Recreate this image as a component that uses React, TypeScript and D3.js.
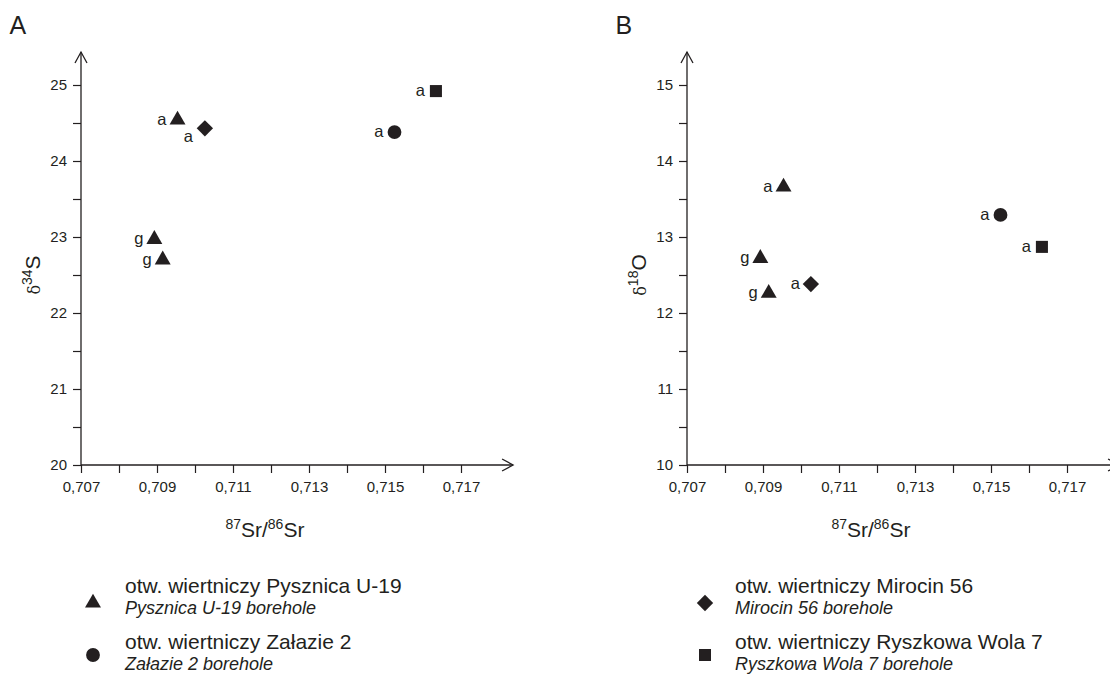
import { useEffect, useRef } from 'react'
import * as d3 from 'd3'

// samples: 87Sr/86Sr shared by both panels
const srRatio = [0.70954, 0.70893, 0.70915, 0.71026, 0.71525, 0.71634]
const delta34S = [24.54, 22.97, 22.7, 24.43, 24.38, 24.92]
const delta18O = [13.66, 12.72, 12.26, 12.38, 13.29, 12.87]
const sampleBorehole = ['pysznica', 'pysznica', 'pysznica', 'mirocin', 'zalazie', 'ryszkowa']
const sampleMineral = ['a', 'g', 'g', 'a', 'a', 'a']
// in panel A the Mirocin label sits below the marker
const sulfurLabelBelow = [false, false, false, true, false, false]

const srTicks = [0.707, 0.708, 0.709, 0.71, 0.711, 0.712, 0.713, 0.714, 0.715, 0.716, 0.717]
const srTickLabels = ['0,707', '0,709', '0,711', '0,713', '0,715', '0,717']
const sulfurTicks = [20, 20.5, 21, 21.5, 22, 22.5, 23, 23.5, 24, 24.5, 25]
const oxygenTicks = [10, 10.5, 11, 11.5, 12, 12.5, 13, 13.5, 14, 14.5, 15]

const boreholeKeys = ['pysznica', 'zalazie', 'mirocin', 'ryszkowa']
const boreholeNamesPl = [
  'otw. wiertniczy Pysznica U-19',
  'otw. wiertniczy Załazie 2',
  'otw. wiertniczy Mirocin 56',
  'otw. wiertniczy Ryszkowa Wola 7',
]
const boreholeNamesEn = [
  'Pysznica U-19 borehole',
  'Załazie 2 borehole',
  'Mirocin 56 borehole',
  'Ryszkowa Wola 7 borehole',
]

const FONT = '"Liberation Sans", Arial, sans-serif'
const INK = '#231f20'

const symbolFor: Record<string, d3.SymbolType> = {
  pysznica: d3.symbolTriangle,
  zalazie: d3.symbolCircle,
  mirocin: d3.symbolDiamond2,
  ryszkowa: d3.symbolSquare2,
}
const symbolSize: Record<string, number> = {
  pysznica: 110,
  zalazie: 150,
  mirocin: 170,
  ryszkowa: 185,
}

const drawPanel = (
  g: d3.Selection<SVGGElement, unknown, null, undefined>,
  yValues: number[],
  yTicks: number[],
  yDomain: [number, number],
  iso: string,
  element: string,
  letter: string,
  labelBelow: boolean[] | null,
) => {
  const yTop = 85
  const yBot = 465
  const x = d3.scaleLinear().domain([0.707, 0.717]).range([0, 380])
  const y = d3.scaleLinear().domain(yDomain).range([yBot, yTop])

  // panel letter
  g.append('text')
    .attr('x', -71.5)
    .attr('y', 34)
    .attr('font-size', 25)
    .attr('font-family', FONT)
    .attr('fill', INK)
    .text(letter)

  // y axis
  const yAxis = d3
    .axisLeft(y)
    .tickValues(yTicks)
    .tickSize(8)
    .tickFormat((d) => (Number.isInteger(d as number) ? String(d) : ''))
  const ya = g.append('g').call(yAxis)
  ya.select('.domain').remove()
  ya.selectAll('line').attr('stroke', INK).attr('stroke-width', 1.2)
  ya.selectAll('text')
    .attr('font-size', 15)
    .attr('font-family', FONT)
    .attr('fill', INK)
    .attr('x', -14)
  g.append('line')
    .attr('x1', 0).attr('x2', 0)
    .attr('y1', yBot).attr('y2', 52)
    .attr('stroke', INK).attr('stroke-width', 1.3)
  g.append('path')
    .attr('d', 'M-6,63 L0,52 L6,63')
    .attr('fill', 'none').attr('stroke', INK).attr('stroke-width', 1.3)

  // x axis
  const xAxis = d3
    .axisBottom(x)
    .tickValues(srTicks)
    .tickSize(8)
    .tickFormat((_, i) => (i % 2 === 0 ? srTickLabels[i / 2] : ''))
  const xa = g.append('g').attr('transform', `translate(0,${yBot})`).call(xAxis)
  xa.select('.domain').remove()
  xa.selectAll('line').attr('stroke', INK).attr('stroke-width', 1.2)
  xa.selectAll('text')
    .attr('font-size', 15)
    .attr('font-family', FONT)
    .attr('fill', INK)
    .attr('y', 16)
  const xEnd = x(0.71837)
  g.append('line')
    .attr('x1', 0).attr('x2', xEnd)
    .attr('y1', yBot).attr('y2', yBot)
    .attr('stroke', INK).attr('stroke-width', 1.3)
  g.append('path')
    .attr('d', `M${xEnd - 11},${yBot - 6} L${xEnd},${yBot} L${xEnd - 11},${yBot + 6}`)
    .attr('fill', 'none').attr('stroke', INK).attr('stroke-width', 1.3)

  // axis titles
  const xt = g.append('text')
    .attr('x', x(0.71184))
    .attr('y', 537)
    .attr('text-anchor', 'middle')
    .attr('font-size', 21)
    .attr('font-family', FONT)
    .attr('fill', INK)
  xt.append('tspan').attr('font-size', 14).attr('dy', -8).text('87')
  xt.append('tspan').attr('dy', 8).text('Sr/')
  xt.append('tspan').attr('font-size', 14).attr('dy', -8).text('86')
  xt.append('tspan').attr('dy', 8).text('Sr')

  const yt = g.append('text')
    .attr('transform', `translate(${-41},${y(yDomain[0] + 2.5)}) rotate(-90)`)
    .attr('text-anchor', 'middle')
    .attr('font-size', 21)
    .attr('font-family', FONT)
    .attr('fill', INK)
  yt.append('tspan').attr('font-family', '"DejaVu Serif", serif').attr('font-size', 16).text('δ')
  yt.append('tspan').attr('font-size', 14).attr('dy', -8).text(iso)
  yt.append('tspan').attr('dy', 8).text(element)

  // points
  srRatio.forEach((sr, i) => {
    const cx = x(sr)
    const cy = y(yValues[i])
    const key = sampleBorehole[i]
    g.append('path')
      .attr('transform', `translate(${cx},${cy})`)
      .attr('d', d3.symbol(symbolFor[key], symbolSize[key])() as string)
      .attr('fill', INK)
    const below = labelBelow ? labelBelow[i] : false
    g.append('text')
      .attr('x', below ? cx - 12 : cx - 11)
      .attr('y', below ? cy + 14 : cy + 5)
      .attr('text-anchor', 'end')
      .attr('font-size', 16.5)
      .attr('font-family', FONT)
      .attr('fill', INK)
      .text(sampleMineral[i])
  })
}

const drawLegendEntry = (
  g: d3.Selection<SVGGElement, unknown, null, undefined>,
  idx: number,
  mx: number,
  my: number,
  tx: number,
  ty: number,
) => {
  const key = boreholeKeys[idx]
  g.append('path')
    .attr('transform', `translate(${mx},${my})`)
    .attr('d', d3.symbol(symbolFor[key], symbolSize[key])() as string)
    .attr('fill', INK)
  g.append('text')
    .attr('x', tx)
    .attr('y', ty)
    .attr('font-size', 21)
    .attr('font-family', FONT)
    .attr('fill', INK)
    .text(boreholeNamesPl[idx])
  g.append('text')
    .attr('x', tx)
    .attr('y', ty + 21)
    .attr('font-size', 18)
    .attr('font-style', 'italic')
    .attr('font-family', FONT)
    .attr('fill', INK)
    .text(boreholeNamesEn[idx])
}

const App = () => {
  const ref = useRef<SVGSVGElement>(null)

  useEffect(() => {
    const svg = d3.select(ref.current)
    svg.selectAll('*').remove()

    const gA = svg.append('g').attr('transform', 'translate(81,0)')
    drawPanel(gA, delta34S, sulfurTicks, [20, 25], '34', 'S', 'A', sulfurLabelBelow)

    const gB = svg.append('g').attr('transform', 'translate(687,0)')
    drawPanel(gB, delta18O, oxygenTicks, [10, 15], '18', 'O', 'B', null)

    const leg = svg.append('g')
    drawLegendEntry(leg, 0, 93, 603, 125, 593)
    drawLegendEntry(leg, 1, 93, 655, 125, 649)
    drawLegendEntry(leg, 2, 705, 603, 735, 593)
    drawLegendEntry(leg, 3, 705, 655, 735, 649)
  }, [])

  return (
    <svg
      ref={ref}
      width={1110}
      height={674}
      style={{ position: 'absolute', left: 0, top: 0, background: '#fff' }}
    />
  )
}

export default App
